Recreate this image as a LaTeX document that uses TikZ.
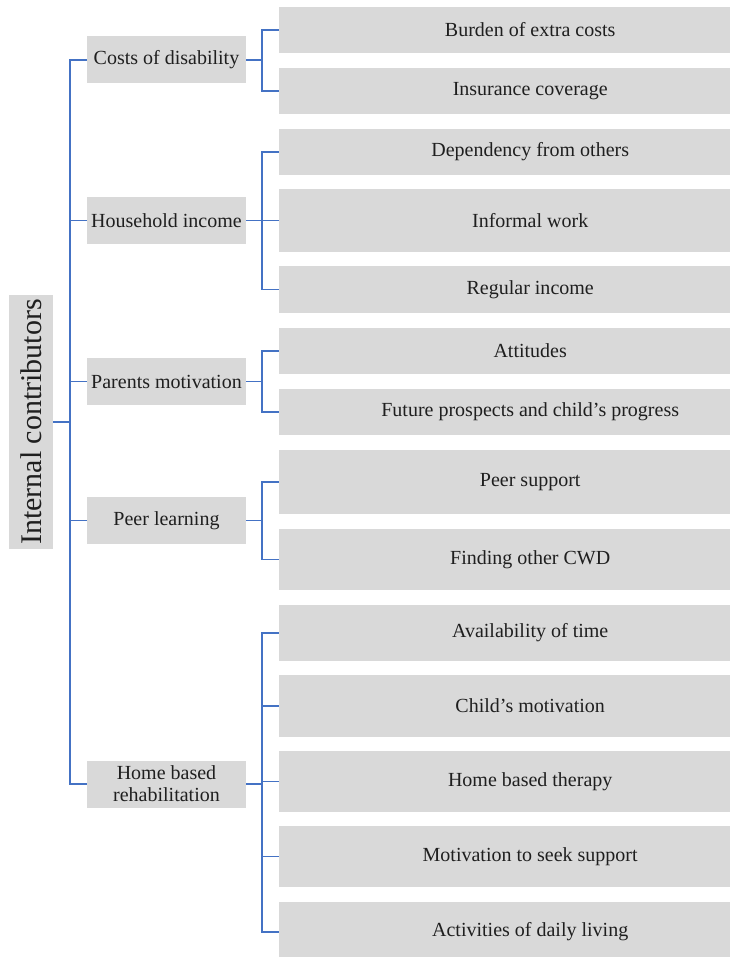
\documentclass[tikz,border=0pt]{standalone}
\usepackage{fontspec}
\setmainfont{Liberation Serif}
\usepackage{xcolor}
\usepackage{tikz}
\usetikzlibrary{positioning}
\definecolor{boxgray}{HTML}{D9D9D9}
\definecolor{linkblue}{HTML}{4472C4}
\definecolor{txtgray}{HTML}{1F1F1F}

\begin{document}
\begin{tikzpicture}[
  x=1pt, y=-1pt,
  box/.style={fill=boxgray, text=txtgray, inner sep=2pt, align=center,
              font=\fontsize{20}{22}\selectfont},
  rootbox/.style={box, rotate=90, minimum width=254pt, minimum height=44pt,
                  font=\fontsize{30}{34}\selectfont},
  midbox/.style={box, minimum width=159pt, minimum height=47pt},
  leafbox/.style={box, anchor=west, minimum width=502pt},
  link/.style={draw=linkblue, line width=1.6pt},
]
\useasboundingbox (0,0) rectangle (729,957);

\node[rootbox] (root) at (31,422) {Internal contributors};

\node[midbox] (cost)   at (166.5,60)    {Costs of disability};
\node[midbox] (income) at (166.5,220.5) {Household income};
\node[midbox] (parent) at (166.5,381.5) {Parents motivation};
\node[midbox] (peer)   at (166.5,520.5) {Peer learning};
\node[midbox] (home)   at (166.5,784)   {Home based\\rehabilitation};

% costs of disability
\node[leafbox, minimum height=46pt] (burden) at (279,30)  {Burden of extra costs};
\node[leafbox, minimum height=46pt] (insur)  at (279,91)  {Insurance coverage};
% household income
\node[leafbox, minimum height=46pt] (depend)  at (279,152)   {Dependency from others};
\node[leafbox, minimum height=63pt] (informal) at (279,220.5) {Informal work};
\node[leafbox, minimum height=47pt] (regular) at (279,289.5) {Regular income};
% parents motivation
\node[leafbox, minimum height=46pt] (attit)  at (279,351) {Attitudes};
\node[leafbox, minimum height=46pt] (future) at (279,412) {Future prospects and child’s progress};
% peer learning
\node[leafbox, minimum height=64pt] (support) at (279,482)   {Peer support};
\node[leafbox, minimum height=61pt] (finding) at (279,559.5) {Finding other CWD};
% home based rehabilitation
\node[leafbox, minimum height=56pt] (avail)  at (279,633)   {Availability of time};
\node[leafbox, minimum height=62pt] (childm) at (279,706)   {Child’s motivation};
\node[leafbox, minimum height=61pt] (hbther) at (279,781.5) {Home based therapy};
\node[leafbox, minimum height=61pt] (seek)   at (279,856.5) {Motivation to seek support};
\node[leafbox, minimum height=60pt] (daily)  at (279,932)   {Activities of daily living};

\foreach \m in {cost,income,parent,peer,home}
  \draw[link] (root.south) -- ++(17,0) |- (\m);

\foreach \c in {burden,insur}
  \draw[link] (cost.east) -- ++(16,0) |- (\c);
\foreach \c in {depend,informal,regular}
  \draw[link] (income.east) -- ++(16,0) |- (\c);
\foreach \c in {attit,future}
  \draw[link] (parent.east) -- ++(16,0) |- (\c);
\foreach \c in {support,finding}
  \draw[link] (peer.east) -- ++(16,0) |- (\c);
\foreach \c in {avail,childm,hbther,seek,daily}
  \draw[link] (home.east) -- ++(16,0) |- (\c);
\end{tikzpicture}
\end{document}
